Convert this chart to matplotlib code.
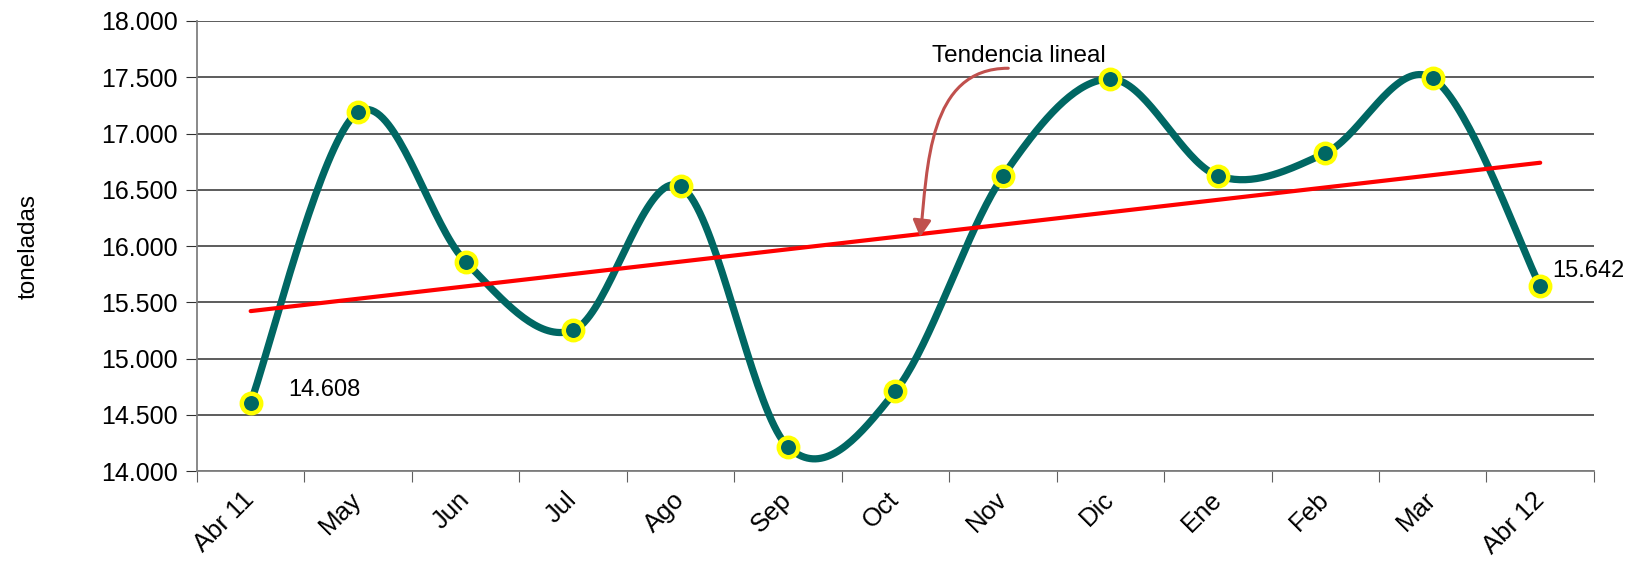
import matplotlib
matplotlib.use('Agg')
import matplotlib.pyplot as plt
import matplotlib.ticker as mticker
import numpy as np
from matplotlib.patches import FancyArrowPatch
from matplotlib.path import Path

plt.rcParams['font.family'] = ['Liberation Sans', 'DejaVu Sans']

# data
meses = ['Abr 11', 'May', 'Jun', 'Jul', 'Ago', 'Sep', 'Oct', 'Nov', 'Dic', 'Ene', 'Feb', 'Mar', 'Abr 12']
toneladas = [14608, 17190, 15860, 15250, 16530, 14215, 14710, 16620, 17485, 16625, 16825, 17490, 15642]
yticks = [14000, 14500, 15000, 15500, 16000, 16500, 17000, 17500, 18000]

x = np.arange(len(meses))
y = np.array(toneladas, dtype=float)

# smooth line (catmull-rom style bezier, like excel "smoothed line")
def suavizar(xs, ys, n=40):
    px = np.concatenate([[xs[0]], xs, [xs[-1]]])
    py = np.concatenate([[ys[0]], ys, [ys[-1]]])
    outx, outy = [], []
    t = np.linspace(0, 1, n)
    for i in range(1, len(px) - 2):
        p0x, p0y = px[i], py[i]
        p3x, p3y = px[i + 1], py[i + 1]
        c1x = p0x + (px[i + 1] - px[i - 1]) / 6
        c1y = p0y + (py[i + 1] - py[i - 1]) / 6
        c2x = p3x - (px[i + 2] - px[i]) / 6
        c2y = p3y - (py[i + 2] - py[i]) / 6
        b0, b1, b2, b3 = (1 - t)**3, 3*(1 - t)**2*t, 3*(1 - t)*t**2, t**3
        outx.extend(b0*p0x + b1*c1x + b2*c2x + b3*p3x)
        outy.extend(b0*p0y + b1*c1y + b2*c2y + b3*p3y)
    return np.array(outx), np.array(outy)

sx, sy = suavizar(x, y)

# linear trend
coef = np.polyfit(x, y, 1)
tend = np.polyval(coef, x)

fig = plt.figure(figsize=(16.37, 5.63), dpi=100)
ax = fig.add_axes([0.1203, 0.1634, 0.8534, 0.7993])

ax.set_ylim(14000, 18000)
ax.set_xlim(-0.5, len(meses) - 0.5)
ax.set_yticks(yticks)
ax.yaxis.set_major_formatter(mticker.FuncFormatter(lambda v, p: f'{int(v):,}'.replace(',', '.')))
ax.grid(axis='y', color='#303030', linewidth=1.1, zorder=0)
ax.set_axisbelow(True)

ax.plot(sx, sy, color='#006763', linewidth=5.2, solid_capstyle='round', zorder=3)
ax.plot([x[0], x[-1]], [tend[0], tend[-1]], color='#FF0000', linewidth=3, solid_capstyle='round', zorder=4)
ax.plot(x, y, linestyle='none', marker='o', markersize=14, markerfacecolor='#006763',
        markeredgecolor='#FFFF00', markeredgewidth=3.2, zorder=5)

# data labels first / last
ax.annotate('14.608', (x[0], y[0]), xytext=(27, 9), textcoords='offset points',
            fontsize=17, ha='left', va='center')
ax.annotate('15.642', (x[-1], y[-1]), xytext=(9, 11), textcoords='offset points',
            fontsize=17, ha='left', va='center')

# annotation arrow (curved)
ax.text(6.34, 17690, 'Tendencia lineal', fontsize=17.5, ha='left', va='center')
curva = Path([(7.05, 17580), (6.30, 17580), (6.30, 16700), (6.23, 16080)],
             [Path.MOVETO, Path.CURVE4, Path.CURVE4, Path.CURVE4])
arrow = FancyArrowPatch(path=curva, arrowstyle='-|>,head_length=10,head_width=5.5',
                        color='#C0504D', linewidth=2.2, transform=ax.transData, zorder=6)
ax.add_patch(arrow)

# axes styling
for s in ['top', 'right']:
    ax.spines[s].set_visible(False)
ax.spines['left'].set_color('#808080')
ax.spines['bottom'].set_color('#808080')
ax.spines['left'].set_linewidth(1.3)
ax.spines['bottom'].set_linewidth(1.3)

ax.tick_params(axis='y', direction='out', length=8, color='#303030', labelsize=18, pad=6)
ax.set_xticks(np.arange(-0.5, len(meses), 1))
ax.set_xticklabels([])
ax.set_xticks(x, minor=True)
ax.set_xticklabels(meses, minor=True, rotation=45, ha='right', va='center', rotation_mode='anchor',
                   fontsize=18.5)
ax.tick_params(axis='x', which='major', direction='out', length=8, color='#606060')
ax.tick_params(axis='x', which='minor', length=0, pad=18)

ax.set_ylabel('toneladas', fontsize=17.5, labelpad=44)

plt.savefig('out.png', dpi=100)
